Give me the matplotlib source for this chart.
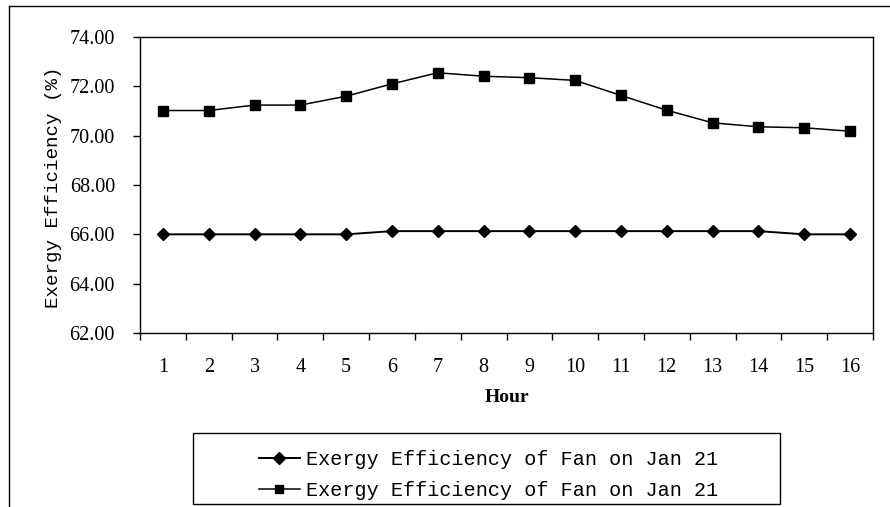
import matplotlib
matplotlib.use("Agg")
import matplotlib.pyplot as plt
from matplotlib.lines import Line2D
from matplotlib.patches import Rectangle

# Hourly exergy efficiency values (%)
hours = [str(h) for h in range(1, 17)]
fan_diamond = [66.00, 66.00, 66.00, 66.00, 66.00, 66.13, 66.13, 66.13,
               66.13, 66.13, 66.13, 66.13, 66.13, 66.13, 66.00, 66.00]
fan_square = [71.02, 71.02, 71.24, 71.24, 71.60, 72.10, 72.55, 72.41,
              72.35, 72.24, 71.63, 71.03, 70.52, 70.36, 70.32, 70.18]
series_labels = ["Exergy Efficiency of Fan on Jan 21",
                 "Exergy Efficiency of Fan on Jan 21"]
y_ticks = [62, 64, 66, 68, 70, 72, 74]

W, H = 890, 507
fig = plt.figure(figsize=(W / 100, H / 100), dpi=100)
fig.patch.set_facecolor("white")

ax = fig.add_axes([140 / W, 1 - 333 / H, 733 / W, 296 / H])
x = list(range(1, len(hours) + 1))
l1, = ax.plot(x, fan_diamond, color="black", lw=1.4, marker="D",
              markersize=6.2, label=series_labels[0])
l2, = ax.plot(x, fan_square, color="black", lw=1.1, marker="s",
              markersize=6.8, label=series_labels[1])

ax.set_xlim(0.5, len(hours) + 0.5)
ax.set_ylim(62, 74)
ax.set_yticks(y_ticks)
ax.set_yticklabels([f"{v:.2f}" for v in y_ticks],
                   fontfamily="Liberation Serif", fontsize=14.5)

# Category boundaries carry the tick marks; labels sit at the centres
ax.set_xticks([i + 0.5 for i in range(0, len(hours) + 1)])
ax.set_xticklabels([])
ax.set_xticks(x, minor=True)
ax.set_xticklabels(hours, minor=True, fontfamily="Liberation Serif", fontsize=14.5)
ax.tick_params(axis="x", which="major", direction="out", length=5, width=1)
ax.tick_params(axis="x", which="minor", length=0, pad=18)
ax.tick_params(axis="y", direction="out", length=5, width=1, pad=13)

for s in ax.spines.values():
    s.set_linewidth(1.0)
    s.set_color("black")

ax.set_xlabel("Hour", fontfamily="Liberation Serif", fontweight="bold",
              fontsize=14)
ax.xaxis.set_label_coords(0.5, (333 - 389) / 296)
ax.set_ylabel("Exergy Efficiency (%)", fontfamily="Liberation Mono",
              fontsize=13.8)
ax.yaxis.set_label_coords((62 - 140) / 733, 0.493)

# Legend box below the plot
fig.add_artist(Rectangle((193 / W, 1 - 504 / H), (780 - 193) / W, (504 - 433) / H,
                         transform=fig.transFigure, fill=False,
                         edgecolor="black", lw=1.0))
leg = fig.legend(handles=[l1, l2], labels=series_labels, loc="center",
                 bbox_to_anchor=(488.5 / W, 1 - 475 / H), frameon=False,
                 prop={"family": "Liberation Mono", "size": 14.5},
                 handlelength=2.05, handletextpad=0.3, labelspacing=0.62,
                 borderpad=0.0)
leg.legend_handles[1].set_markersize(5.2)

# Outer chart frame (left and top edges)
fig.add_artist(Line2D([9 / W, 9 / W], [0, 1 - 6 / H], transform=fig.transFigure,
                      color="black", lw=1.0))
fig.add_artist(Line2D([9 / W, 1], [1 - 6 / H, 1 - 6 / H], transform=fig.transFigure,
                      color="black", lw=1.0))

fig.savefig("out.png", dpi=100, facecolor="white")
